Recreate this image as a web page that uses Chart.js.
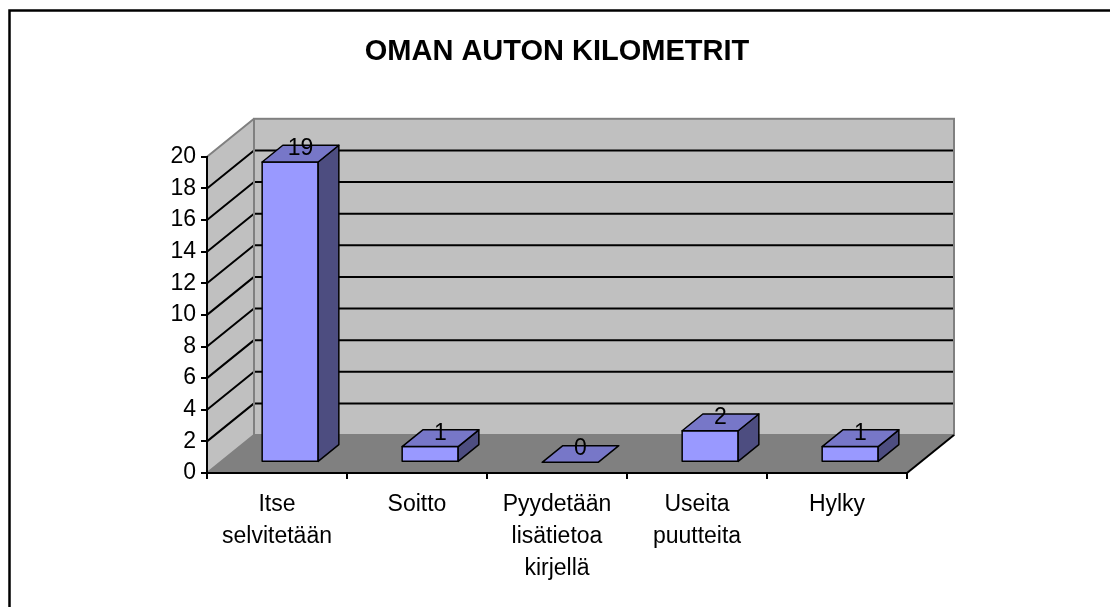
<!DOCTYPE html>
<html lang="fi">
<head>
<meta charset="UTF-8">
<title>Oman auton kilometrit</title>
<script src="https://cdn.jsdelivr.net/npm/chart.js"></script>
<style>
  html, body { margin: 0; padding: 0; background: #fff; }
</style>
</head>
<body>
<canvas id="kilometrit" width="1110" height="607"></canvas>
<script>
// data
const categories = [['Itse', 'selvitetään'], 'Soitto', ['Pyydetään', 'lisätietoa', 'kirjellä'], ['Useita', 'puutteita'], 'Hylky'];
const values = [19, 1, 0, 2, 1];
const yMin = 0, yMax = 20, yStep = 2;

const FONT = "'Liberation Sans', Arial, sans-serif";
// depth of the 3d box (back wall offset) and where bars sit inside it
const DX = 47, DY = -38;
const BAR_FRONT = 0.28, BAR_BACK = 0.72;

function poly(ctx, pts) {
  ctx.beginPath();
  ctx.moveTo(pts[0][0], pts[0][1]);
  for (let i = 1; i < pts.length; i++) ctx.lineTo(pts[i][0], pts[i][1]);
  ctx.closePath();
}

const box3d = {
  id: 'box3d',
  beforeDraw(chart) {
    const { ctx, chartArea: a } = chart;
    const y = chart.scales.y;
    const bl = a.left + DX, br = a.right + DX, bt = a.top + DY, bb = a.bottom + DY;
    ctx.save();

    // outer frame (only top and left are visible)
    ctx.strokeStyle = '#000';
    ctx.lineWidth = 2.5;
    ctx.beginPath();
    ctx.moveTo(9.5, chart.height);
    ctx.lineTo(9.5, 10.5);
    ctx.lineTo(chart.width, 10.5);
    ctx.stroke();

    // walls and floor
    ctx.fillStyle = '#C0C0C0';
    ctx.fillRect(bl, bt, br - bl, bb - bt);
    poly(ctx, [[a.left, a.top], [bl, bt], [bl, bb], [a.left, a.bottom]]);
    ctx.fill();
    ctx.fillStyle = '#808080';
    poly(ctx, [[a.left, a.bottom], [a.right, a.bottom], [br, bb], [bl, bb]]);
    ctx.fill();

    // grid lines on back wall + diagonals on side wall
    ctx.strokeStyle = '#000';
    ctx.lineWidth = 2;
    y.ticks.forEach(t => {
      if (t.value <= yMin || t.value >= yMax) return;
      const py = y.getPixelForValue(t.value);
      ctx.beginPath();
      ctx.moveTo(bl, py + DY);
      ctx.lineTo(br, py + DY);
      ctx.moveTo(a.left, py);
      ctx.lineTo(bl, py + DY);
      ctx.stroke();
    });

    // wall edges
    ctx.strokeStyle = '#808080';
    ctx.strokeRect(bl, bt, br - bl, bb - bt);
    ctx.beginPath();
    ctx.moveTo(a.left, a.top); ctx.lineTo(bl, bt);
    ctx.moveTo(a.left, a.bottom); ctx.lineTo(bl, bb);
    ctx.stroke();
    ctx.strokeStyle = '#000';
    ctx.beginPath();
    ctx.moveTo(a.right, a.bottom); ctx.lineTo(br, bb);
    ctx.stroke();
    ctx.restore();
  },
  afterDatasetsDraw(chart) {
    const ctx = chart.ctx;
    const meta = chart.getDatasetMeta(0);
    const fx = DX * BAR_FRONT, fy = DY * BAR_FRONT;
    const dx = DX * (BAR_BACK - BAR_FRONT), dy = DY * (BAR_BACK - BAR_FRONT);
    ctx.save();
    ctx.lineWidth = 1.5;
    ctx.strokeStyle = '#000';
    ctx.lineJoin = 'round';
    meta.data.forEach((bar, i) => {
      const half = bar.width / 2;
      const l = bar.x - half + fx, r = bar.x + half + fx;
      const t = bar.y + fy, b = bar.base + fy;
      if (b - t > 0.5) {
        ctx.fillStyle = '#9999FF';
        ctx.fillRect(l, t, r - l, b - t);
        ctx.strokeRect(l, t, r - l, b - t);
        ctx.fillStyle = '#4D4D80';
        poly(ctx, [[r, t], [r + dx, t + dy], [r + dx, b + dy], [r, b]]);
        ctx.fill(); ctx.stroke();
      }
      ctx.fillStyle = '#7777C8';
      poly(ctx, [[l, t], [r, t], [r + dx, t + dy], [l + dx, t + dy]]);
      ctx.fill(); ctx.stroke();

      // value label on the top face
      ctx.fillStyle = '#000';
      ctx.font = '23px ' + FONT;
      ctx.textAlign = 'center';
      ctx.textBaseline = 'middle';
      ctx.fillText(String(values[i]), (l + r) / 2 + dx / 2, t + dy / 2 - 5);
    });
    ctx.restore();
  }
};

const chart = new Chart(document.getElementById('kilometrit'), {
  type: 'bar',
  data: {
    labels: categories,
    datasets: [{
      data: values,
      backgroundColor: 'rgba(0,0,0,0)',
      borderWidth: 0,
      barPercentage: 0.4,
      categoryPercentage: 1
    }]
  },
  options: {
    responsive: false,
    animation: false,
    layout: { padding: { left: 0, right: 203, top: 0, bottom: 0 } },
    plugins: {
      legend: { display: false },
      tooltip: { enabled: false },
      title: {
        display: true,
        text: 'OMAN AUTON KILOMETRIT',
        fullSize: false,
        color: '#000',
        font: { family: FONT, size: 29, weight: 'bold' },
        padding: { top: 35, bottom: 87 }
      }
    },
    scales: {
      x: {
        offset: true,
        grid: { display: true, offset: true, drawOnChartArea: false, tickLength: 6, color: '#000', lineWidth: 2 },
        border: { display: true, color: '#000', width: 2 },
        ticks: {
          color: '#000',
          padding: 10,
          maxRotation: 0,
          autoSkip: false,
          font: { family: FONT, size: 23, lineHeight: '32px' }
        },
        afterFit(s) { s.height = 134; }
      },
      y: {
        min: yMin,
        max: yMax,
        grid: { display: true, drawOnChartArea: false, tickLength: 6, color: '#000', lineWidth: 2 },
        border: { display: true, color: '#000', width: 2 },
        ticks: {
          stepSize: yStep,
          color: '#000',
          padding: 5,
          font: { family: FONT, size: 23 }
        },
        afterFit(s) { s.width = 207; }
      }
    }
  },
  plugins: [box3d]
});
</script>
</body>
</html>
